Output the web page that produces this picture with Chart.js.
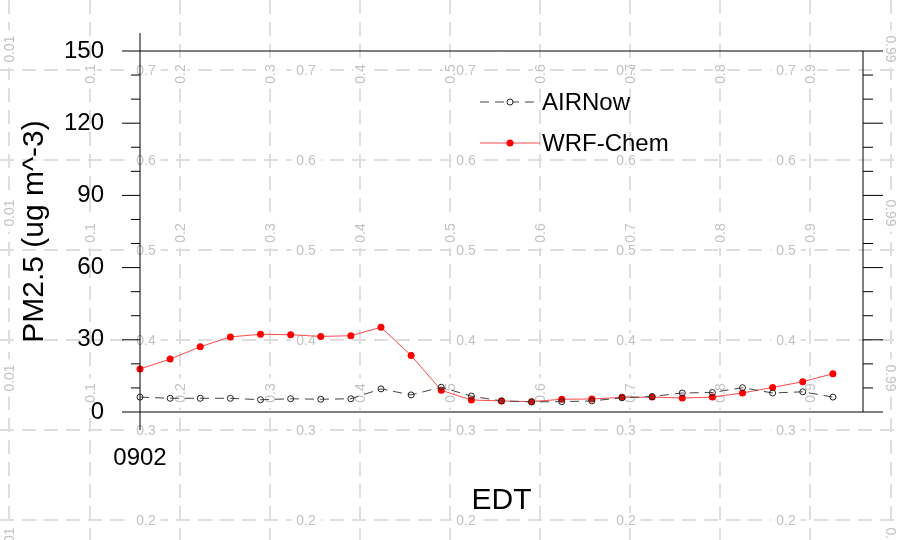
<!DOCTYPE html>
<html>
<head>
<meta charset="utf-8">
<title>PM2.5 AIRNow vs WRF-Chem</title>
<script src="https://cdn.jsdelivr.net/npm/chart.js@4.4.1/dist/chart.umd.min.js"></script>
<style>
  html, body { margin: 0; padding: 0; background: #fff; }
  #wrap { width: 900px; height: 540px; }
</style>
</head>
<body>
<div id="wrap"><canvas id="pm25" width="900" height="540"></canvas></div>
<script>
// hourly samples, starting 0902 EDT
const hours = [0, 1, 2, 3, 4, 5, 6, 7, 8, 9, 10, 11, 12, 13, 14, 15, 16, 17, 18, 19, 20, 21, 22, 23];
const airnow = [6.2, 5.7, 5.7, 5.7, 5.1, 5.5, 5.3, 5.5, 9.6, 7.1, 10.3, 6.6, 4.6, 4.2, 4.3, 4.6, 5.9, 6.4, 7.9, 8.1, 10.1, 7.9, 8.4, 6.2];
const wrfchem = [17.9, 22.0, 27.1, 31.2, 32.3, 32.1, 31.4, 31.7, 35.2, 23.5, 9.0, 5.0, 4.6, 4.3, 5.3, 5.4, 6.1, 6.2, 5.8, 6.2, 7.9, 10.2, 12.6, 15.9];
const seriesNames = ['AIRNow', 'WRF-Chem'];

// x axis: only the first hour is labelled
const xTickValues = [0];
const xTickLabels = ['0902'];

// faint background labels
const rowLabels = ['0.7', '0.6', '0.5', '0.4', '0.3', '0.2'];
const colLabels = ['0.01', '0.1', '0.2', '0.3', '0.4', '0.5', '0.6', '0.7', '0.8', '0.9', '0.99'];

const FONT = '"Liberation Sans", Arial, Helvetica, sans-serif';
Chart.defaults.font.family = FONT;
Chart.defaults.color = '#000';

// gray dashed sheet behind the plot
const backdrop = {
    id: 'backdrop',
    beforeDraw(chart) {
        const ctx = chart.ctx;
        const w = chart.width, h = chart.height;
        const cols = [9, 90, 180, 270, 360, 450, 540, 630, 720, 810, 891];
        ctx.save();
        ctx.fillStyle = '#fff';
        ctx.fillRect(0, 0, w, h);

        ctx.strokeStyle = '#dedede';
        ctx.lineWidth = 2;
        ctx.setLineDash([14, 8]);
        cols.forEach(x => {
            ctx.beginPath(); ctx.moveTo(x, 0); ctx.lineTo(x, h); ctx.stroke();
        });
        rowLabels.forEach((t, i) => {
            const y = 70 + 90 * i;
            ctx.beginPath(); ctx.moveTo(0, y); ctx.lineTo(w, y); ctx.stroke();
        });
        ctx.setLineDash([]);

        ctx.font = '14px ' + FONT;
        ctx.textAlign = 'center';
        ctx.textBaseline = 'middle';

        // collect label spots, knock out first, then write
        const spots = [];
        rowLabels.forEach((t, i) => {
            for (let x = 146; x < w; x += 160) spots.push({ t, x, y: 70 + 90 * i, rot: 0 });
        });
        colLabels.forEach((t, i) => {
            const edge = i === 0 || i === colLabels.length - 1;
            const ys = edge ? [49, 213, 378, 541] : [74, 233, 393];
            ys.forEach(y => spots.push({ t, x: cols[i], y, rot: i === colLabels.length - 1 ? Math.PI / 2 : -Math.PI / 2 }));
        });

        ctx.fillStyle = '#fff';
        spots.forEach(s => {
            const tw = ctx.measureText(s.t).width + 10;
            if (s.rot === 0) ctx.fillRect(s.x - tw / 2, s.y - 7, tw, 14);
            else ctx.fillRect(s.x - 7, s.y - tw / 2, 14, tw);
        });
        ctx.fillStyle = '#c2c2c2';
        spots.forEach(s => {
            ctx.save();
            ctx.translate(s.x, s.y);
            ctx.rotate(s.rot);
            ctx.fillText(s.t, 0, 1);
            ctx.restore();
        });
        ctx.restore();
    }
};

// axis frame, tick marks and the in-plot legend
const frame = {
    id: 'frame',
    afterDraw(chart) {
        const ctx = chart.ctx;
        const { left, right, top, bottom } = chart.chartArea;
        const y = chart.scales.y, x = chart.scales.x;
        ctx.save();
        ctx.strokeStyle = '#000';
        ctx.lineWidth = 1;
        ctx.beginPath();
        // border
        ctx.moveTo(left, top); ctx.lineTo(right, top);
        ctx.moveTo(left, bottom); ctx.lineTo(right, bottom);
        ctx.moveTo(left, top); ctx.lineTo(left, bottom);
        ctx.moveTo(right, top); ctx.lineTo(right, bottom);
        // y ticks, both sides, major every 30 minor every 10
        for (let v = y.min; v <= y.max; v += 10) {
            const py = y.getPixelForValue(v);
            const major = v % 30 === 0;
            ctx.moveTo(left - (major ? 18 : 9), py); ctx.lineTo(left, py);
            ctx.moveTo(right, py); ctx.lineTo(right + (major ? 20 : 10), py);
        }
        // x ticks top and bottom
        xTickValues.forEach(v => {
            const px = x.getPixelForValue(v);
            ctx.moveTo(px, top - 18); ctx.lineTo(px, top);
            ctx.moveTo(px, bottom); ctx.lineTo(px, bottom + 18);
        });
        ctx.stroke();

        // legend
        const rows = [102, 143];
        const x0 = left + 340, x1 = left + 400;
        ctx.font = '24px ' + FONT;
        ctx.textAlign = 'left';
        ctx.textBaseline = 'middle';
        chart.data.datasets.forEach((ds, i) => {
            const ly = rows[i];
            ctx.strokeStyle = ds.borderColor;
            ctx.lineWidth = ds.borderWidth;
            ctx.setLineDash(ds.borderDash || []);
            ctx.beginPath(); ctx.moveTo(x0, ly); ctx.lineTo(x1, ly); ctx.stroke();
            ctx.setLineDash([]);
            ctx.beginPath();
            ctx.arc((x0 + x1) / 2, ly, ds.pointRadius, 0, Math.PI * 2);
            ctx.fillStyle = ds.legendFill;
            ctx.fill();
            if (ds.pointBorderWidth) {
                ctx.strokeStyle = ds.pointBorderColor;
                ctx.lineWidth = ds.pointBorderWidth;
                ctx.stroke();
            }
            ctx.fillStyle = '#000';
            ctx.fillText(ds.label, x1 + 2, ly + 1);
        });
        ctx.restore();
    }
};

const ctx = document.getElementById('pm25').getContext('2d');
const chart = new Chart(ctx, {
    type: 'line',
    data: {
        datasets: [{
            label: seriesNames[0],
            data: hours.map((h, i) => ({ x: h, y: airnow[i] })),
            xAxisID: 'x',
            yAxisID: 'y',
            borderColor: '#444',
            borderWidth: 1,
            borderDash: [9, 6],
            pointRadius: 3,
            pointBorderWidth: 1,
            pointBorderColor: '#222',
            pointBackgroundColor: 'rgba(0,0,0,0)',
            legendFill: '#fff',
            tension: 0,
            clip: false
        }, {
            label: seriesNames[1],
            data: hours.map((h, i) => ({ x: h, y: wrfchem[i] })),
            xAxisID: 'x',
            yAxisID: 'y',
            borderColor: '#ff4a4a',
            borderWidth: 1,
            pointRadius: 3.5,
            pointBorderWidth: 0,
            pointBackgroundColor: '#ff0000',
            legendFill: '#ff0000',
            tension: 0,
            clip: false
        }]
    },
    options: {
        responsive: false,
        animation: false,
        events: [],
        layout: { padding: 0 },
        plugins: {
            legend: { display: false },
            tooltip: { enabled: false }
        },
        scales: {
            x: {
                type: 'linear',
                position: 'bottom',
                min: 0,
                max: 24,
                afterBuildTicks: s => { s.ticks = xTickValues.map(v => ({ value: v })); },
                afterFit: s => { s.height = 128; },
                ticks: {
                    callback: (v, i) => xTickLabels[i],
                    font: { size: 24 },
                    color: '#000',
                    padding: 32,
                    maxRotation: 0,
                    autoSkip: false
                },
                grid: { display: false, drawTicks: false },
                border: { display: false },
                title: {
                    display: true,
                    text: 'EDT',
                    color: '#000',
                    font: { size: 30 },
                    padding: { top: 0, bottom: 21 }
                }
            },
            xTop: {
                type: 'linear',
                position: 'top',
                min: 0,
                max: 24,
                afterFit: s => { s.height = 51; },
                ticks: { display: false },
                grid: { display: false, drawTicks: false },
                border: { display: false }
            },
            y: {
                position: 'left',
                min: 0,
                max: 150,
                afterFit: s => { s.width = 140; },
                ticks: {
                    stepSize: 30,
                    font: { size: 24 },
                    color: '#000',
                    padding: 36
                },
                grid: { display: false, drawTicks: false },
                border: { display: false },
                title: {
                    display: true,
                    text: 'PM2.5 (ug m^-3)',
                    color: '#000',
                    font: { size: 30 },
                    padding: { top: 17, bottom: 0 }
                }
            },
            yRight: {
                position: 'right',
                min: 0,
                max: 150,
                afterFit: s => { s.width = 37; },
                ticks: { display: false },
                grid: { display: false, drawTicks: false },
                border: { display: false }
            }
        }
    },
    plugins: [backdrop, frame]
});
</script>
</body>
</html>
